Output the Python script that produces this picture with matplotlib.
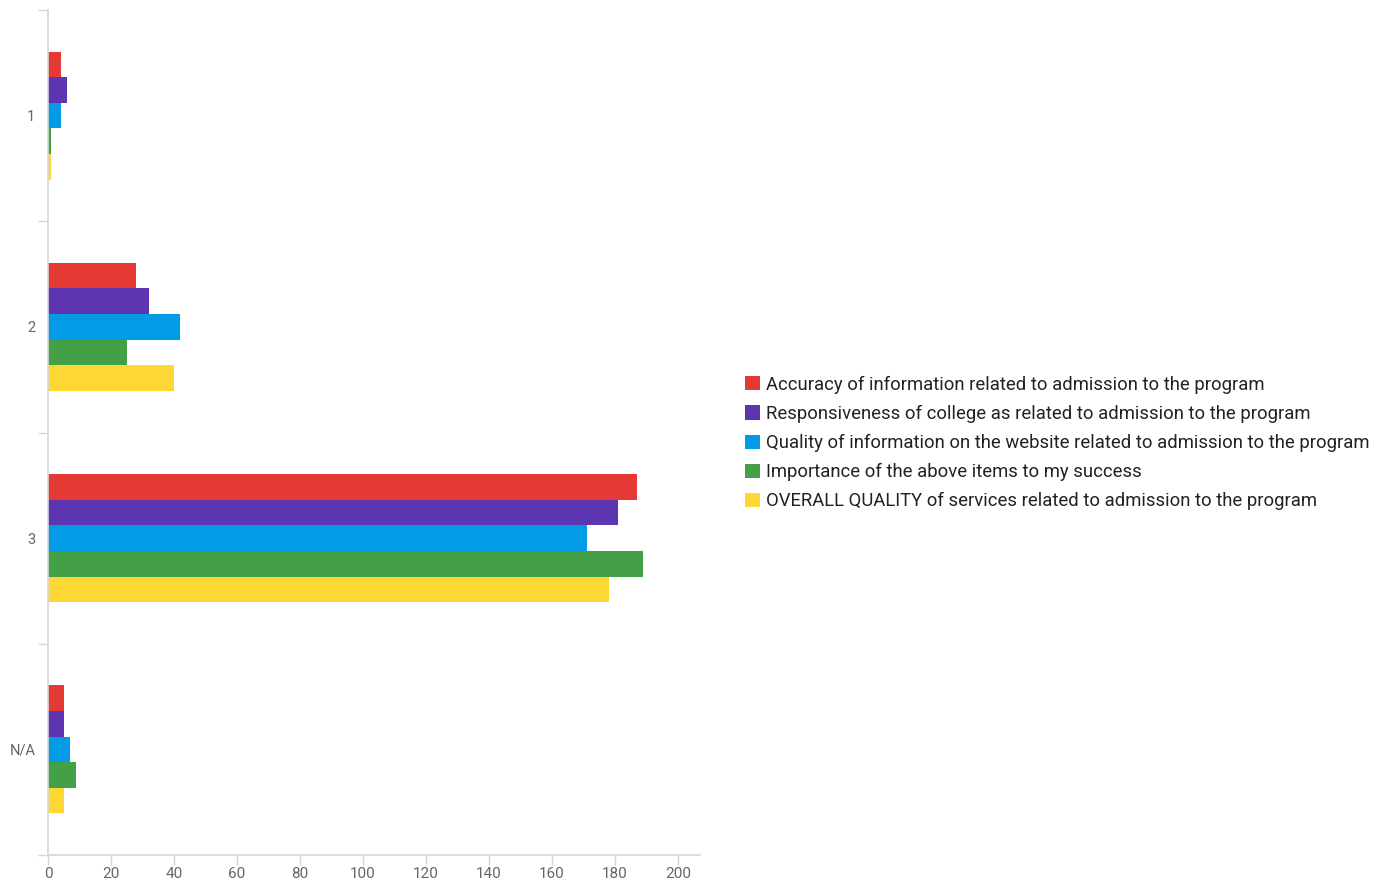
import numpy as np
import matplotlib
matplotlib.use("Agg")
import matplotlib.pyplot as plt
from matplotlib.patches import Patch

plt.rcParams['font.family'] = ['Roboto', 'DejaVu Sans']

categories = ['1', '2', '3', 'N/A']
series_names = [
    'Accuracy of information related to admission to the program',
    'Responsiveness of college as related to admission to the program',
    'Quality of information on the website related to admission to the program',
    'Importance of the above items to my success',
    'OVERALL QUALITY of services related to admission to the program',
]
series_values = [
    [4, 28, 187, 5],
    [6, 32, 181, 5],
    [4, 42, 171, 7],
    [1, 25, 189, 9],
    [1, 40, 178, 5],
]
colors = ['#e53935', '#5e35b1', '#039be5', '#43a047', '#fdd835']
x_ticks = list(range(0, 201, 20))

fig = plt.figure(figsize=(13.93, 8.84), dpi=100)
ax = fig.add_axes([48 / 1393, 29 / 884, 652 / 1393, 845 / 884])

n = len(series_names)
h = 0.1213
y = np.arange(len(categories))
for i, (vals, c) in enumerate(zip(series_values, colors)):
    offs = (i - (n - 1) / 2) * h
    ax.barh(y + offs, vals, height=h, color=c, linewidth=0)

ax.set_ylim(3.5, -0.5)
ax.set_xlim(0, 207)
ax.set_xticks(x_ticks)
ax.set_yticks(y)
ax.set_yticklabels(categories)
ax.set_yticks(np.arange(-0.5, 3.6, 1), minor=True)

for s in ['top', 'right']:
    ax.spines[s].set_visible(False)
for s in ['left', 'bottom']:
    ax.spines[s].set_color('#d6d6d6')
    ax.spines[s].set_linewidth(1.2)

ax.tick_params(axis='y', which='major', length=0, pad=9, labelsize=10.5, labelcolor='#666666')
ax.tick_params(axis='y', which='minor', length=7, color='#d6d6d6', width=1)
ax.tick_params(axis='x', length=7, color='#d6d6d6', width=1, labelsize=11, labelcolor='#666666', pad=2)

handles = [Patch(facecolor=c, edgecolor='none') for c in colors]
fig.legend(handles, series_names, loc='center left', bbox_to_anchor=(745 / 1393, 1 - 443 / 884),
           frameon=False, borderpad=0, borderaxespad=0, handlelength=0.8, handleheight=0.8,
           handletextpad=0.35, labelspacing=0.6, fontsize=13.3, labelcolor='#222222')

fig.savefig('out.png', dpi=100)
